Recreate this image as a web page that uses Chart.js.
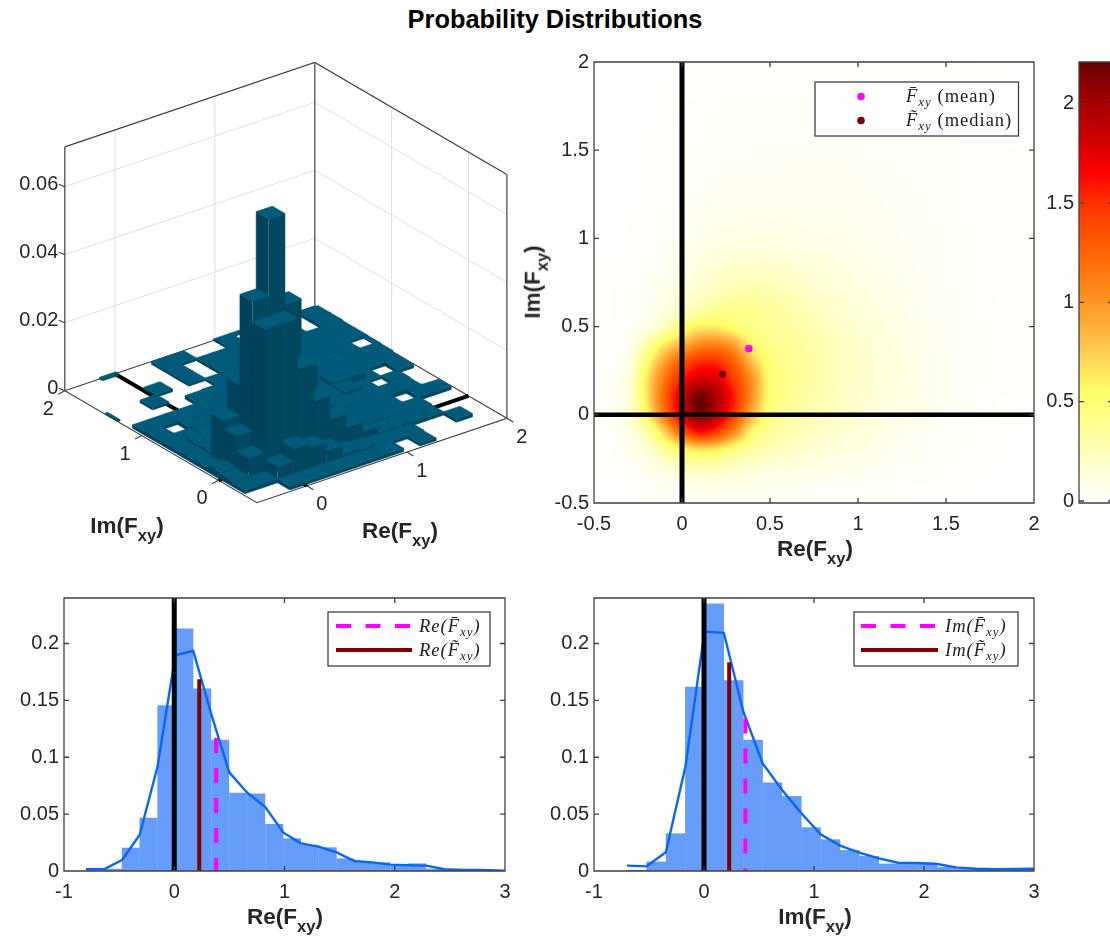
<!DOCTYPE html>
<html><head><meta charset="utf-8">
<script src="https://cdn.jsdelivr.net/npm/chart.js@4"></script>
<style>
html,body{margin:0;padding:0;width:1110px;height:936px;overflow:hidden;background:#fff}
canvas{position:absolute;display:block}
.t{position:absolute;transform:translate(-50%,-50%);white-space:nowrap;font-family:"Liberation Sans",Arial,sans-serif;font-weight:bold;color:#262626;font-size:22.5px;line-height:1}
.t sub{font-size:16.5px;vertical-align:baseline;position:relative;top:8px;line-height:0}
#title{color:#000;font-size:25.4px}
.m{position:absolute;white-space:nowrap;font-family:"Liberation Serif",serif;font-size:18.5px;color:#222;line-height:1;letter-spacing:1px;transform:translateY(-50%)}
.m i{font-style:italic}
.m sub{font-size:13px;font-style:italic;vertical-align:baseline;position:relative;top:4px;line-height:0}
</style></head><body>
<canvas id="c3d" style="left:0;top:50px" width="530" height="470"></canvas>
<canvas id="cHeat" style="left:530px;top:50px" width="520" height="520"></canvas>
<canvas id="cBar" style="left:1040px;top:50px" width="73" height="470"></canvas>
<canvas id="cRe" style="left:0;top:585px" width="530" height="351"></canvas>
<canvas id="cIm" style="left:530px;top:585px" width="530" height="351"></canvas>
<div class="t" id="title" style="left:555px;top:20px">Probability Distributions</div>
<div class="t" style="left:127px;top:526px">Im(F<sub>xy</sub>)</div>
<div class="t" style="left:400px;top:531px">Re(F<sub>xy</sub>)</div>
<div class="t" style="left:815px;top:549px">Re(F<sub>xy</sub>)</div>
<div class="t" style="left:533px;top:282px;transform:translate(-50%,-50%) rotate(-90deg)">Im(F<sub>xy</sub>)</div>
<div class="t" style="left:285px;top:917px">Re(F<sub>xy</sub>)</div>
<div class="t" style="left:815px;top:917px">Im(F<sub>xy</sub>)</div>
<div class="m" style="left:906px;top:96px"><i>F̄</i><sub>xy</sub> (mean)</div>
<div class="m" style="left:906px;top:120px"><i>F̃</i><sub>xy</sub> (median)</div>
<div class="m" style="left:419px;top:626px"><i>Re(F̄</i><sub>xy</sub><i>)</i></div>
<div class="m" style="left:419px;top:650px"><i>Re(F̃</i><sub>xy</sub><i>)</i></div>
<div class="m" style="left:945px;top:626px"><i>Im(F̄</i><sub>xy</sub><i>)</i></div>
<div class="m" style="left:945px;top:650px"><i>Im(F̃</i><sub>xy</sub><i>)</i></div>
<script>
// ---------- data ----------
const histReEdges=[-0.8,-0.633,-0.474,-0.314,-0.152,0.01,0.172,0.334,0.499,0.662,0.824,0.99,1.148,1.31,1.473,1.632,1.794,1.96,2.122,2.285,2.45,2.612,2.78,2.94];
const histReValues=[.0005,.002,.0205,.0469,.1458,.2132,.1605,.1154,.0688,.0682,.0413,.0287,.0228,.0208,.0111,.0088,.0076,.0045,.0067,.002,.0008,.0008,.0005];
const kdeReX=[-0.8,-0.633,-0.474,-0.314,-0.152,0.01,0.172,0.334,0.499,0.662,0.824,0.99,1.148,1.31,1.473,1.632,1.794,1.96,2.122,2.285,2.45,2.612,2.78,3];
const kdeReY=[.0015,.0018,.0097,.0316,.0917,.1897,.1936,.1385,.0867,.0688,.0565,.0337,.0243,.0214,.0164,.0088,.0076,.0056,.005,.0047,.0015,.0009,.0009,.0003];
const histImEdges=[-0.7,-0.522,-0.347,-0.169,0.005,0.18,0.358,0.533,0.71,0.885,1.06,1.238,1.412,1.59,1.765,1.943,2.118,2.293,2.47,2.648,2.826,3];
const histImValues=[.001,.0082,.0331,.1619,.2351,.1678,.1154,.0779,.0659,.0384,.0278,.0184,.0132,.0065,.0075,.0072,.0035,.002,.001,.001,.001];
const kdeImY=[.0047,.0041,.0164,.0917,.2105,.2094,.14,.0946,.0712,.0507,.0322,.0223,.0161,.0111,.0073,.007,.0061,.0032,.002,.0015,.0018,.002];
const meanRe=[0.38,0.117], medianRe=[0.227,0.1685], meanIm=[0.376,0.134], medianIm=[0.229,0.1836];
const meanPoint=[0.38,0.375], medianPoint=[0.23,0.23];
const histXTicks=[-1,0,1,2,3], histYTicks=[0,.05,.1,.15,.2];
const heatTicks=[-0.5,0,0.5,1,1.5,2];
const barTicks=[0,0.5,1,1.5,2];
const zTicks=[0,.02,.04,.06], floorTicks=[0,1,2];
const heatRe=[-.5,-.4,-.3,-.2,-.1,0,.1,.2,.3,.4,.5,.6,.7,.8,.9,1,1.1,1.2,1.3,1.4,1.5,1.6,1.7,1.8,1.9,2];
const heatIm=[2,1.9,1.8,1.7,1.6,1.5,1.4,1.3,1.2,1.1,1,.9,.8,.7,.6,.5,.4,.3,.2,.1,0,-.1,-.2,-.3,-.4,-.5];
const heatGrid=[
[0,0,0,0,0,.01,.01,.01,.01,.01,.01,.01,.01,.01,.01,.01,.01,.01,.01,.01,.01,.01,.01,0,0,0],
[0,0,0,0,0,.01,.01,.01,.01,.01,.01,.01,.01,.01,.01,.01,.01,.01,.01,.01,.01,.01,.01,.01,0,0],
[0,0,0,0,.01,.01,.01,.02,.02,.02,.02,.02,.02,.02,.02,.02,.02,.02,.02,.01,.01,.01,.01,.01,0,0],
[0,0,0,0,.01,.01,.02,.02,.02,.02,.03,.03,.03,.03,.03,.03,.02,.02,.02,.02,.01,.01,.01,.01,0,0],
[0,0,0,0,.01,.01,.02,.02,.03,.03,.03,.03,.03,.03,.03,.03,.03,.03,.02,.02,.02,.01,.01,.01,0,0],
[0,0,0,.01,.01,.02,.02,.03,.03,.03,.04,.04,.04,.04,.04,.03,.03,.03,.03,.02,.02,.02,.01,.01,.01,0],
[0,0,0,.01,.01,.02,.03,.03,.04,.04,.04,.05,.05,.05,.05,.04,.04,.03,.03,.03,.02,.02,.01,.01,.01,0],
[0,0,0,.01,.02,.03,.03,.04,.05,.05,.05,.05,.05,.05,.05,.05,.04,.04,.03,.03,.02,.02,.01,.01,.01,0],
[0,0,0,.01,.02,.03,.04,.05,.06,.06,.06,.06,.06,.06,.06,.05,.05,.04,.04,.03,.02,.02,.01,.01,.01,0],
[0,0,.01,.01,.03,.04,.06,.07,.07,.08,.08,.08,.07,.07,.07,.06,.05,.05,.04,.03,.03,.02,.01,.01,.01,0],
[0,0,.01,.02,.03,.05,.07,.09,.10,.11,.11,.10,.09,.08,.08,.07,.06,.05,.04,.04,.03,.02,.02,.01,.01,0],
[0,0,.01,.02,.04,.07,.10,.13,.15,.16,.15,.14,.12,.11,.09,.08,.07,.06,.05,.04,.03,.02,.02,.01,.01,0],
[0,.01,.01,.03,.06,.10,.14,.18,.21,.22,.21,.19,.16,.14,.12,.10,.08,.07,.05,.04,.03,.03,.02,.01,.01,0],
[0,.01,.02,.04,.08,.13,.19,.25,.29,.30,.28,.25,.21,.17,.14,.12,.10,.08,.06,.05,.04,.03,.02,.01,.01,0],
[0,.01,.02,.06,.12,.20,.30,.38,.41,.40,.35,.30,.25,.21,.17,.14,.11,.09,.07,.05,.04,.03,.02,.01,.01,0],
[0,.01,.03,.09,.24,.45,.60,.60,.50,.42,.37,.33,.29,.24,.20,.16,.13,.10,.08,.06,.04,.03,.02,.02,.01,0],
[0,.01,.05,.30,.62,.85,1.05,1.08,.92,.55,.42,.37,.32,.27,.22,.18,.14,.11,.08,.06,.05,.03,.02,.02,.01,0],
[.01,.02,.09,.50,.95,1.30,1.50,1.50,1.25,.80,.48,.40,.34,.28,.23,.19,.15,.12,.09,.07,.05,.03,.02,.02,.01,0],
[.01,.03,.13,.65,1.15,1.58,1.82,1.75,1.42,1.0,.52,.42,.34,.28,.23,.19,.15,.12,.09,.07,.05,.03,.02,.02,.01,0],
[.01,.03,.16,.65,1.25,1.80,2.18,1.95,1.55,1.0,.52,.40,.32,.27,.22,.18,.14,.11,.09,.07,.05,.03,.02,.01,.01,0],
[.01,.03,.15,.55,1.15,1.75,2.12,1.88,1.42,.85,.47,.35,.29,.24,.20,.16,.13,.10,.08,.06,.04,.03,.02,.01,.01,0],
[.01,.02,.10,.30,.72,1.25,1.60,1.42,1.02,.55,.37,.28,.24,.20,.16,.13,.11,.08,.06,.05,.03,.02,.02,.01,0,0],
[0,.01,.05,.15,.35,.55,.65,.60,.45,.33,.26,.21,.17,.14,.12,.10,.08,.06,.05,.03,.02,.02,.01,.01,0,0],
[0,.01,.02,.06,.14,.23,.28,.26,.21,.17,.14,.12,.10,.09,.07,.06,.05,.04,.03,.02,.02,.01,.01,0,0,0],
[0,0,.01,.02,.04,.07,.09,.09,.08,.07,.06,.06,.05,.04,.03,.03,.02,.02,.01,.01,.01,.01,0,0,0,0],
[0,0,0,.01,.01,.02,.03,.03,.03,.03,.02,.02,.02,.02,.01,.01,.01,.01,.01,0,0,0,0,0,0,0]];
const colorStops=[[0,255,255,253],[.15,255,255,215],[.3,255,255,170],[.55,255,255,102],[.75,255,205,85],[1,255,150,35],[1.25,255,100,0],[1.5,255,50,0],[1.65,255,0,0],[1.85,200,0,0],[2,168,0,0],[2.21,102,0,0]];
// 3-D histogram: bin edges (both axes), then heights ×0.001; row = Im bin (first row = highest Im), column = Re bin
const cellEdges=[-0.5,-0.478,-0.3155,-0.153,0.0095,0.172,0.3345,0.497,0.6595,0.822,0.9845,1.147,1.3095,1.472,1.6345,1.797,1.9595,2];
const cellHeights=[
[0,0,0,.5,0,0,0,0,0,0,.5,.5,0,0,0,0,0],
[0,0,0,0,0,0,.8,.8,0,0,.8,0,.6,.6,0,1,.8],
[0,0,0,0,0,0,.8,0,.8,.8,.8,.8,1,1,0,.8,.8],
[0,0,0,0,.8,0,.8,0,.9,.9,1,1,1,1,1,1,.6],
[.4,0,0,.8,0,0,0,.8,1,1,1,1,1,1,1,.8,.6],
[0,0,0,0,0,1,1.2,1.2,1.2,1.2,1,1.4,1.2,1.2,1,0,.5],
[0,1,1,1,1,1.2,1.2,1.4,1.4,1.4,1.6,1.6,1.4,1,1,1,.4],
[0,1.2,0,1.2,1.4,1.6,1.8,1.8,2,2,2,2,1.6,1,1,1,0],
[0,1.2,1.2,1.8,2,2.4,3,3,3,3,2.4,3.5,3.5,.8,0,1,0],
[0,1.2,2,1.5,2.4,2.5,4,4.5,4,3,2.4,3,1.6,0,1,0,0],
[0,1.2,2,3,4,7,8,6,4,3,2.4,2,1.4,1.4,.8,0,0],
[0,1.2,13.4,22,30,25,14,8,4,3,2,2,1.2,0,1.2,1,0],
[0,2,11,49,71.7,45,24,11,5,3,2,2,1.2,1.2,0,0,0],
[0,1.5,6.6,43,43,28,17,10,6,3,1.5,1.5,1.2,1,0,0,0],
[0,1,1.2,4.6,8.4,7,4.5,2,1.5,1,1,1,0,0,1,0,0],
[0,0,0,1,1,1,1,1,1,1,0,.8,0,0,0,0,0],
[0,0,0,0,0,0,0,0,0,0,0,0,0,0,0,0,0]];
// ---------- shared helpers ----------
const TXT='#262626', BOX='#404040', FONT={family:'"Liberation Sans",Arial,sans-serif',size:20};
Chart.defaults.animation=false; Chart.defaults.events=[]; Chart.defaults.responsive=false;
Chart.defaults.plugins.legend.display=false; Chart.defaults.plugins.tooltip.enabled=false;
const fmt=v=>String(+(+v).toFixed(2));
const noPad=s=>{s.paddingTop=0;s.paddingBottom=0;s.paddingLeft=0;s.paddingRight=0};
function xAxis(min,max,ticks,h,pad){return{type:'linear',min,max,offset:false,afterFit:s=>{s.height=h;noPad(s)},afterBuildTicks:s=>{s.ticks=ticks.map(value=>({value}))},
  grid:{display:false,drawTicks:false,offset:false},border:{display:false},ticks:{font:FONT,color:TXT,padding:pad,maxRotation:0,autoSkip:false,callback:fmt}}}
function yAxis(min,max,ticks,w){return{type:'linear',min,max,afterFit:s=>{s.width=w;noPad(s)},afterBuildTicks:s=>{s.ticks=ticks.map(value=>({value}))},
  grid:{display:false,drawTicks:false},border:{display:false},ticks:{font:FONT,color:TXT,padding:5,autoSkip:false,callback:fmt}}}
const boxPlugin={id:'box',afterDatasetsDraw(c){const a=c.chartArea,x=c.ctx,L=5;x.save();x.strokeStyle=BOX;x.lineWidth=1.3;
  x.beginPath();
  for(const t of c.scales.x.ticks){const p=c.scales.x.getPixelForValue(t.value);x.moveTo(p,a.bottom);x.lineTo(p,a.bottom-L);x.moveTo(p,a.top);x.lineTo(p,a.top+L)}
  for(const t of c.scales.y.ticks){const p=c.scales.y.getPixelForValue(t.value);x.moveTo(a.left,p);x.lineTo(a.left+L,p);x.moveTo(a.right,p);x.lineTo(a.right-L,p)}
  x.rect(a.left,a.top,a.right-a.left,a.bottom-a.top);x.stroke();x.restore()}};
function legendBox(ctx,l,t,r,b){ctx.fillStyle='#fff';ctx.fillRect(l,t,r-l,b-t);ctx.strokeStyle=BOX;ctx.lineWidth=1.3;ctx.strokeRect(l,t,r-l,b-t)}
function vline(x,y0,y1,color,w,order,dash){return{type:'line',data:[{x,y:y1},{x,y:y0}],borderColor:color,borderWidth:w,pointRadius:0,order,borderDash:dash||[],borderCapStyle:'butt',parsing:false}}
function histChart(id,edges,vals,kx,ky,mean,med,top,boxL,boxR,lineL,lineR,leftW,canvasW,right){
  const bars=vals.map((y,i)=>({x:(edges[i]+edges[i+1])/2,y}));
  new Chart(document.getElementById(id),{type:'bar',data:{datasets:[
    {type:'bar',data:bars,backgroundColor:'#669dfa',barPercentage:1.03,categoryPercentage:1,order:6,parsing:false},
    {type:'line',data:kx.map((x,i)=>({x,y:ky[i]})),borderColor:'#0a66f5',borderWidth:2.4,pointRadius:0,tension:0,order:5,parsing:false},
    vline(mean[0],0,mean[1],'#ff00ff',4,4,[15,15]),
    vline(med[0],0,med[1],'#7f0000',4,3),
    vline(0,0,top,'#000',5,2)]},
   options:{layout:{autoPadding:false,padding:{top:13,right:canvasW-right,left:0,bottom:0}},
    scales:{x:xAxis(-1,3,histXTicks,65,9),y:yAxis(0,top,histYTicks,leftW)}},
   plugins:[boxPlugin,{id:'lg',afterDatasetsDraw(c){const x=c.ctx,o=c.canvas.offsetLeft,t=c.canvas.offsetTop;legendBox(x,boxL-o,612-t,boxR-o,666-t);
     x.save();x.lineWidth=4;x.strokeStyle='#ff00ff';x.setLineDash([15,14.5]);x.beginPath();x.moveTo(lineL-o,626-t);x.lineTo(lineR-o,626-t);x.stroke();
     x.setLineDash([]);x.strokeStyle='#7f0000';x.beginPath();x.moveTo(lineL-o,650-t);x.lineTo(lineR-o,650-t);x.stroke();x.restore()}}]});
}
histChart('cRe',histReEdges,histReValues,kdeReX,kdeReY,meanRe,medianRe,.24,328,490,336,412,64,530,505);
histChart('cIm',histImEdges,histImValues,histImEdges,kdeImY,meanIm,medianIm,.24,854,1018,861,938,64,530,504);
// ---------- heat map ----------
function colorOf(v){const s=colorStops;if(v<=s[0][0])return s[0].slice(1);for(let i=1;i<s.length;i++){if(v<=s[i][0]){const t=(v-s[i-1][0])/(s[i][0]-s[i-1][0]);return[1,2,3].map(k=>s[i-1][k]+t*(s[i][k]-s[i-1][k]))}}return s[s.length-1].slice(1)}
const cr=(p0,p1,p2,p3,t)=>p1+.5*t*(p2-p0+t*(2*p0-5*p1+4*p2-p3+t*(3*(p1-p2)+p3-p0)));
function heatAt(re,im){const fx=(re-heatRe[0])/.1,fy=(heatIm[0]-im)/.1,n=heatRe.length,m=heatIm.length;
  const ix=Math.min(n-2,Math.max(0,Math.floor(fx))),iy=Math.min(m-2,Math.max(0,Math.floor(fy)));const tx=fx-ix,ty=fy-iy;
  const rows=[];for(let r=-1;r<=2;r++){const g=heatGrid[Math.min(m-1,Math.max(0,iy+r))],c=k=>g[Math.min(n-1,Math.max(0,ix+k))];rows.push(cr(c(-1),c(0),c(1),c(2),tx))}
  return Math.max(0,cr(rows[0],rows[1],rows[2],rows[3],ty))}
const heatPlugin={id:'heat',beforeDatasetsDraw(c){const a=c.chartArea,w=Math.round(a.right-a.left),h=Math.round(a.bottom-a.top);const off=document.createElement('canvas');off.width=w;off.height=h;
  const o=off.getContext('2d'),im=o.createImageData(w,h);
  for(let py=0;py<h;py++){const v=c.scales.y.getValueForPixel(a.top+py+.5);for(let px=0;px<w;px++){const u=c.scales.x.getValueForPixel(a.left+px+.5);const col=colorOf(heatAt(u,v));const k=4*(py*w+px);im.data[k]=col[0];im.data[k+1]=col[1];im.data[k+2]=col[2];im.data[k+3]=255}}
  o.putImageData(im,0,0);c.ctx.drawImage(off,a.left,a.top)}};
new Chart(document.getElementById('cHeat'),{type:'scatter',data:{datasets:[
  {data:[{x:meanPoint[0],y:meanPoint[1]}],backgroundColor:'#ff00ff',pointRadius:3.8,borderWidth:0,order:1},
  {data:[{x:medianPoint[0],y:medianPoint[1]}],backgroundColor:'#7f0000',pointRadius:3.8,borderWidth:0,order:1},
  {type:'line',data:[{x:0,y:-.5},{x:0,y:2}],borderColor:'#000',borderWidth:5,pointRadius:0,order:2},
  {type:'line',data:[{x:-.5,y:0},{x:2,y:0}],borderColor:'#000',borderWidth:4.5,pointRadius:0,order:2}]},
 options:{layout:{autoPadding:false,padding:{top:12,right:16,left:0,bottom:0}},
  scales:{x:xAxis(-.5,2,heatTicks,67,9),y:yAxis(-.5,2,heatTicks,64)}},
 plugins:[heatPlugin,boxPlugin,{id:'lg',afterDatasetsDraw(c){const x=c.ctx;legendBox(x,285,32,488.5,86);
   x.fillStyle='#ff00ff';x.beginPath();x.arc(331,46.5,3.8,0,7);x.fill();x.fillStyle='#7f0000';x.beginPath();x.arc(331,70.5,3.8,0,7);x.fill()}}]});
// ---------- colour bar ----------
new Chart(document.getElementById('cBar'),{type:'scatter',data:{datasets:[{data:[]}]},
 options:{layout:{autoPadding:false,padding:{top:12,right:0,left:0,bottom:17}},
  scales:{x:{type:'linear',min:0,max:1,display:false},y:{...yAxis(-.01,2.21,barTicks,39)}}},
 plugins:[{id:'cb',beforeDatasetsDraw(c){const a=c.chartArea,y=c.scales.y,x=c.ctx;
   for(let p=Math.floor(a.top);p<a.bottom;p++){const col=colorOf(y.getValueForPixel(p+.5));x.fillStyle=`rgb(${col[0]},${col[1]},${col[2]})`;x.fillRect(a.left,p,a.right-a.left,1)}},
  afterDatasetsDraw(c){const a=c.chartArea,x=c.ctx;x.save();x.strokeStyle=BOX;x.lineWidth=1.3;x.beginPath();
   for(const t of c.scales.y.ticks){const p=c.scales.y.getPixelForValue(t.value);x.moveTo(a.left,p);x.lineTo(a.left+5,p);x.moveTo(a.right,p);x.lineTo(a.right-5,p)}
   x.rect(a.left,a.top,a.right-a.left,a.bottom-a.top);x.stroke();x.restore()}}]});
// ---------- 3-D histogram ----------
const view={fx:256.9,fy:502.7,rx:100,ry:-33.76,ix:-76.84,iy:-44.8,zs:3400,lo:-.5,zMax:.0717,hi:2};
const project=(re,im,z)=>({x:view.fx+(re-view.lo)*view.rx+(im-view.lo)*view.ix,y:view.fy+(re-view.lo)*view.ry+(im-view.lo)*view.iy-z*view.zs});
const TOP_C='#005a7a',LEFT_C='#00425a',RIGHT_C='#00475f';
let ds3=[],ord=1e6;
const seg=(pts,color,w,dash)=>{ds3.push({type:'line',data:pts,borderColor:color,borderWidth:w,pointRadius:0,tension:0,order:ord--,parsing:false,borderCapStyle:'butt'})};
const GRID='#dedede',{lo,hi,zMax}=view;
for(const v of floorTicks.slice(0,2)){seg([project(v,hi,0),project(v,hi,zMax)],GRID,1);seg([project(hi,v,0),project(hi,v,zMax)],GRID,1)}
for(const z of zTicks.slice(1)){seg([project(lo,hi,z),project(hi,hi,z),project(hi,lo,z)],GRID,1)}
// box outline
seg([project(lo,hi,zMax),project(lo,hi,0),project(lo,lo,0),project(hi,lo,0),project(hi,lo,zMax)],'#404040',1.2);
seg([project(lo,hi,zMax),project(hi,hi,zMax),project(hi,lo,zMax)],'#404040',1.2);
seg([project(lo,hi,0),project(hi,hi,0),project(hi,lo,0)],'#404040',1.2);
seg([project(hi,hi,0),project(hi,hi,zMax)],'#707070',1.6);
for(const v of floorTicks){seg([project(v,lo,0),{x:project(v,lo,0).x+6.5,y:project(v,lo,0).y+4}],'#404040',1.2);seg([project(lo,v,0),{x:project(lo,v,0).x-6.5,y:project(lo,v,0).y+3.5}],'#404040',1.2)}
for(const z of zTicks){const p=project(lo,hi,z);seg([p,{x:p.x-6,y:p.y-2.4}],'#404040',1.2)}
seg([project(0,lo,0),project(0,hi,0)],'#000',4);
seg([project(lo,0,0),project(hi,0,0)],'#000',4);
const face=(pts,color)=>ds3.push({type:'line',data:pts,borderColor:color,backgroundColor:color,borderWidth:.6,fill:'shape',pointRadius:0,tension:0,order:ord--,parsing:false});
const nC=cellEdges.length-1;
for(let r=0;r<nC;r++){const J=nC-1-r;for(let I=nC-1;I>=0;I--){const h=cellHeights[r][I];if(!h)continue;const z=h*.001,a=cellEdges[I],b=cellEdges[I+1],c=cellEdges[J],d=cellEdges[J+1];
  face([project(a,c,0),project(a,d,0),project(a,d,z),project(a,c,z)],LEFT_C);
  face([project(a,c,0),project(b,c,0),project(b,c,z),project(a,c,z)],RIGHT_C);
  face([project(a,c,z),project(b,c,z),project(b,d,z),project(a,d,z)],TOP_C);}}
new Chart(document.getElementById('c3d'),{type:'line',data:{datasets:ds3},
 options:{layout:{autoPadding:false,padding:0},scales:{x:{type:'linear',min:0,max:530,display:false},y:{type:'linear',min:50,max:520,reverse:true,display:false}},plugins:{filler:{propagate:false}}},
 plugins:[{id:'lab',afterDatasetsDraw(c){const x=c.ctx,sx=c.scales.x,sy=c.scales.y;x.save();x.fillStyle=TXT;x.font='20px "Liberation Sans",Arial,sans-serif';x.textBaseline='middle';
   const put=(s,px,py,al)=>{x.textAlign=al;x.fillText(s,sx.getPixelForValue(px),sy.getPixelForValue(py))};
   for(const z of zTicks){const p=project(lo,hi,z);put(fmt(z),p.x-6.5,p.y-2,'right')}
   for(const v of floorTicks){const p=project(v,lo,0);put(fmt(v),p.x+15,p.y+19,'center');const q=project(lo,v,0);put(fmt(v),q.x-16.5,q.y+18.5,'center')}
   x.restore()}}]});
</script>
</body></html>
